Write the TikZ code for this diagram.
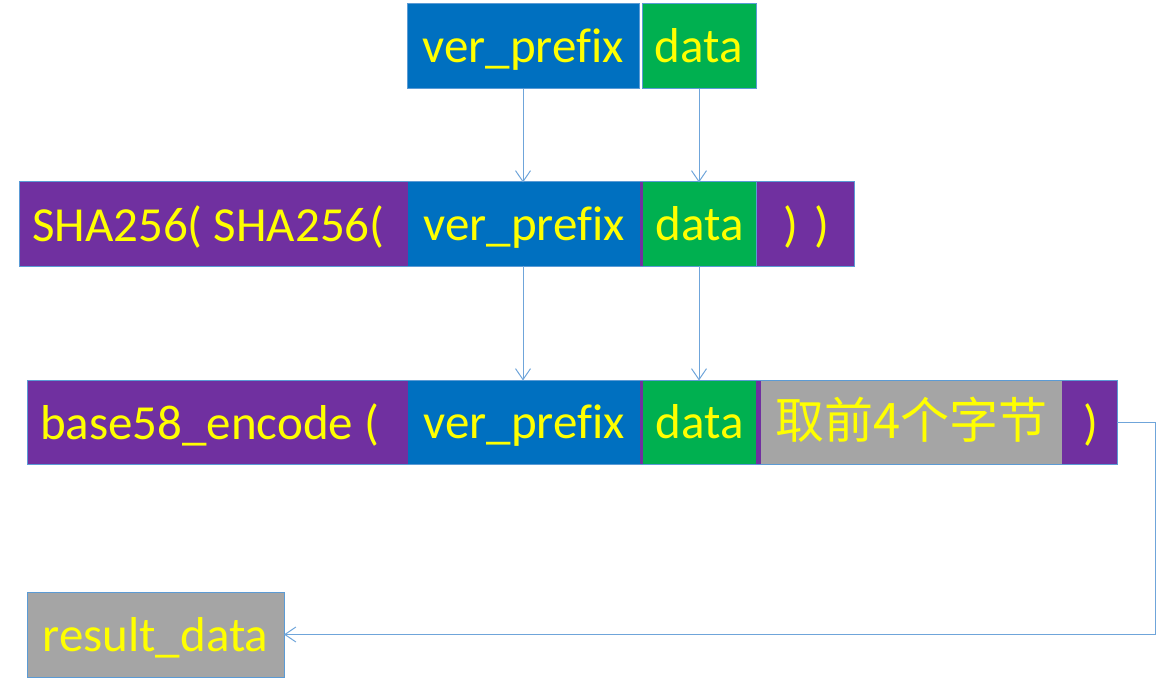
\documentclass[tikz,border=0pt]{standalone}
\usepackage{fontspec}
\setmainfont[Ligatures=NoCommon]{Carlito}
\newfontfamily\cjk{Noto Sans CJK SC}
\usetikzlibrary{arrows.meta}
\definecolor{cpurple}{HTML}{7030A0}
\definecolor{cblue}{HTML}{0070C0}
\definecolor{cgreen}{HTML}{00B050}
\definecolor{cgray}{HTML}{A5A5A5}
\definecolor{cyel}{HTML}{FFFF00}
\definecolor{cborder}{HTML}{5B9BD5}
\definecolor{cline}{HTML}{6FA5DA}
\newcommand{\verpref}{ver\_pref\kern0pt ix}
\tikzset{
  cell/.style={rectangle, inner sep=0pt, outer sep=0pt, text=cyel,
    font=\fontsize{49}{55}\selectfont, text height=33pt, text depth=0pt},
  framed/.style={draw=cborder, line width=1pt},
  lbl/.style={inner sep=0pt, outer sep=0pt, anchor=base west, text=cyel,
    font=\fontsize{49}{55}\selectfont},
  conn/.style={draw=cline, line width=1pt, -{Straight Barb[length=11pt,width=15pt]}}
}
\begin{document}
\begin{tikzpicture}[x=1pt,y=-1pt]
\useasboundingbox (0,0) rectangle (1156,695);
% top row
\node[cell, framed, fill=cblue, minimum width=232pt, minimum height=85pt] (tv) at (523,46.5) {\verpref};
\node[cell, framed, fill=cgreen, minimum width=114pt, minimum height=85pt] (td) at (699,46.5) {data};
% middle row
\node[cell, framed, fill=cpurple, minimum width=835pt, minimum height=84pt] (m) at (436.5,224) {};
\node[lbl] (mt) at (32,241) {SHA256( SHA256(};
\node[cell, fill=cblue, minimum width=232pt, minimum height=83pt] (mv) at (524,224) {\verpref};
\node[cell, fill=cgreen, minimum width=113pt, minimum height=83pt] (md) at (699.5,224) {data};
\draw[cborder, line width=1pt] (md.north east) -- (md.south east);
\node[lbl] (mc) at (783,241) {)\,\,)};
% bottom row
\node[cell, framed, fill=cpurple, minimum width=1090pt, minimum height=84pt] (b) at (572,422) {};
\node[lbl] (bt) at (40,439) {base58\_encode (};
\node[cell, fill=cblue, minimum width=232pt, minimum height=83pt] (bv) at (524,422) {\verpref};
\node[cell, fill=cgreen, minimum width=113pt, minimum height=83pt] (bd) at (699.5,422) {data};
\node[cell, fill=cgray, minimum width=301pt, minimum height=83pt] (bg) at (911.5,422) {\cjk 取前4个字节};
\node[lbl] (bc) at (1083,439) {)};
% result
\node[cell, framed, fill=cgray, minimum width=257pt, minimum height=85pt] (res) at (155.5,634.5) {result\_data};
% connectors
\draw[conn] (tv.south) -- (tv.south |- mv.north);
\draw[conn] (td.south) -- (td.south |- md.north);
\draw[conn] (tv.south |- mv.south) -- (tv.south |- bv.north);
\draw[conn] (td.south |- md.south) -- (td.south |- bd.north);
\draw[conn] (b.east) -- ++(38,0) |- (res.east);
\end{tikzpicture}
\end{document}
